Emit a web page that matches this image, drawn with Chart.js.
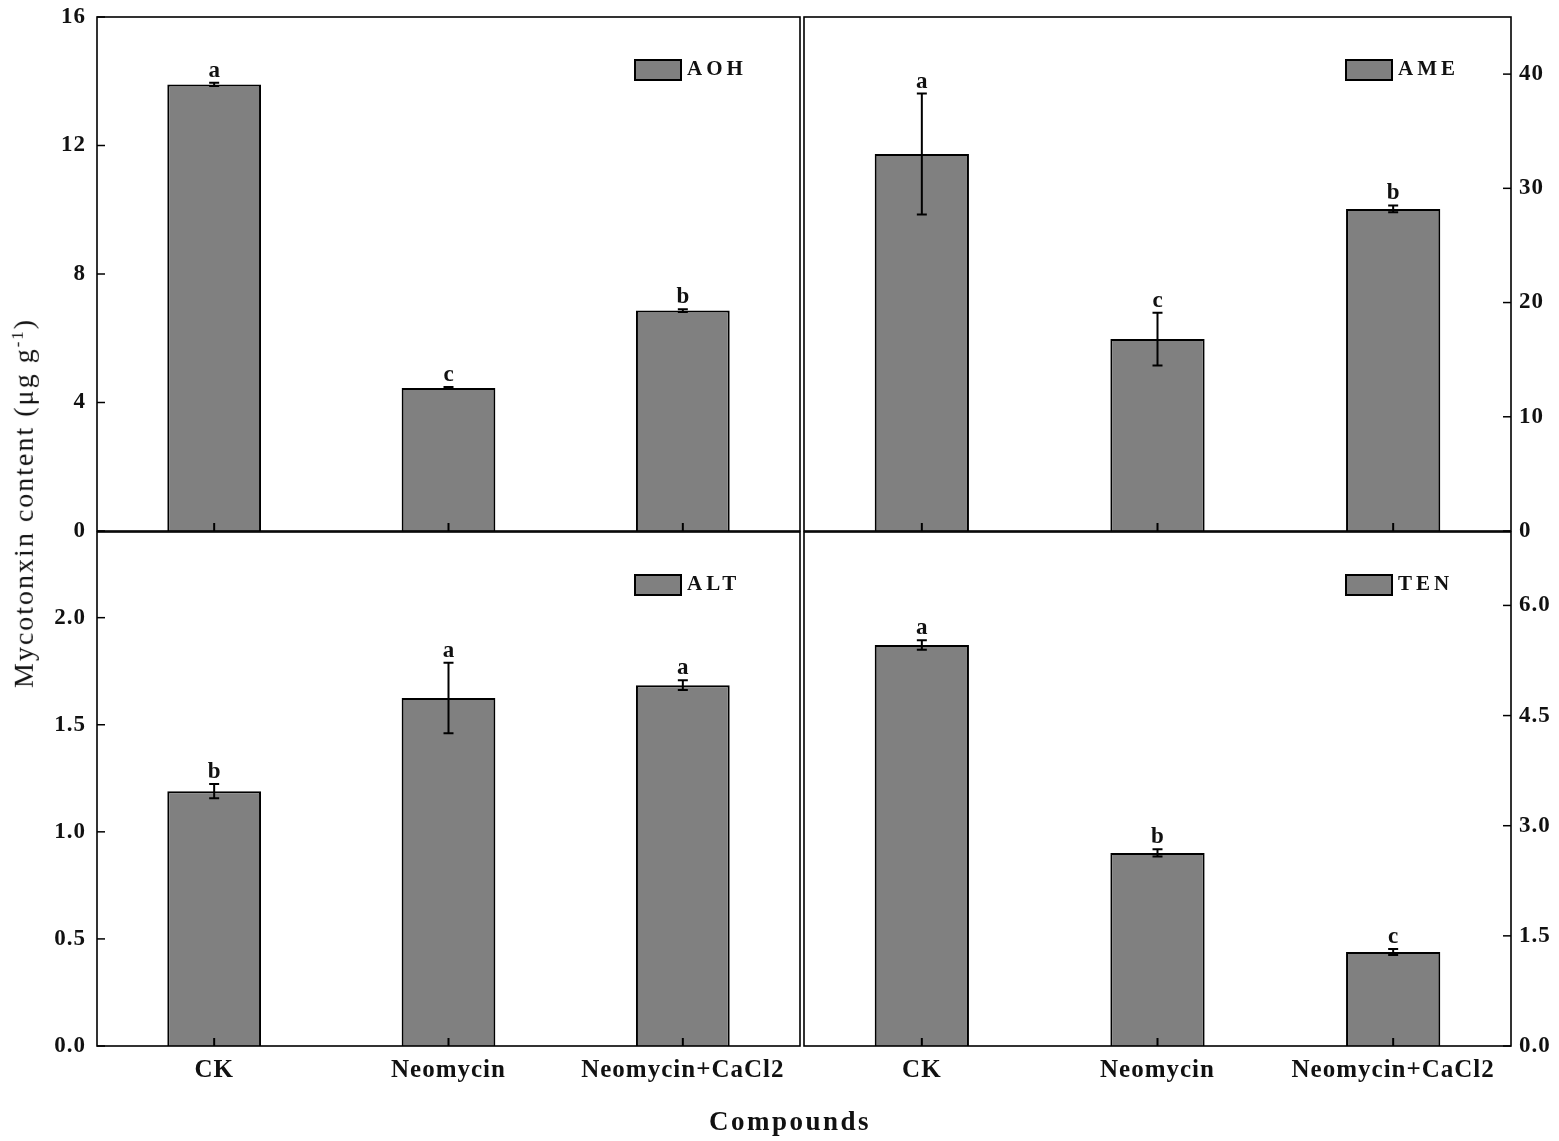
<!DOCTYPE html>
<html>
<head>
<meta charset="utf-8">
<script src="https://cdn.jsdelivr.net/npm/chart.js@4"></script>
<style>
  html,body{margin:0;padding:0;background:#fff;}
  #wrap{position:relative;width:1559px;height:1141px;overflow:hidden;background:#fff;}
  canvas{position:absolute;left:0;top:-40px;}
  #ylab{position:absolute;left:24px;top:503px;transform:translate(-50%,-50%) rotate(-90deg);
        font-family:"Liberation Serif",serif;font-size:28px;letter-spacing:2px;white-space:nowrap;color:#111;}
  #ylab sup{font-size:17px;}
  #xlab{position:absolute;left:790px;top:1121px;transform:translate(-50%,-50%);
        font-family:"Liberation Serif",serif;font-weight:bold;font-size:27px;letter-spacing:2.5px;color:#111;}
</style>
</head>
<body>
<div id="wrap">
  <canvas id="c1" width="1559" height="1221"></canvas>
  <canvas id="c2" width="1559" height="1221"></canvas>
  <canvas id="c3" width="1559" height="1221"></canvas>
  <canvas id="c4" width="1559" height="1221"></canvas>
  <div id="ylab">Mycotonxin content (μg g<sup>-1</sup>)</div>
  <div id="xlab">Compounds</div>
</div>
<script>
// ---- data ----
const categories = ['CK', 'Neomycin', 'Neomycin+CaCl2'];

const aohValues  = [13.9, 4.45, 6.86];
const aohErrors  = [0.05, 0.03, 0.04];
const aohLetters = ['a', 'c', 'b'];
const aohTicks   = [0, 4, 8, 12, 16];
const aohMax     = 16;

const ameValues  = [33.0, 16.8, 28.2];
const ameErrors  = [5.3, 2.3, 0.3];
const ameLetters = ['a', 'c', 'b'];
const ameTicks   = [0, 10, 20, 30, 40];
const ameMax     = 45;

const altValues  = [1.19, 1.625, 1.685];
const altErrors  = [0.033, 0.165, 0.023];
const altLetters = ['b', 'a', 'a'];
const altTicks   = [0, 0.5, 1.0, 1.5, 2.0];
const altMax     = 2.4;

const tenValues  = [5.46, 2.63, 1.28];
const tenErrors  = [0.065, 0.05, 0.04];
const tenLetters = ['a', 'b', 'c'];
const tenTicks   = [0, 1.5, 3.0, 4.5, 6.0];
const tenMax     = 7;

// ---- drawing helpers ----
const FONT = '"Liberation Serif", serif';
const W = 1559, H = 1141;
const OFF = 40;            // canvas is shifted up by OFF px
const CH = H + 2 * OFF;    // canvas height

const spacingPlugin = {
  id: 'spacing',
  beforeUpdate(chart) { chart.ctx.letterSpacing = '1px'; },
  beforeDraw(chart) { chart.ctx.letterSpacing = '1px'; }
};

const decoPlugin = {
  id: 'deco',
  afterDatasetsDraw(chart, args, opts) {
    const ctx = chart.ctx;
    const a = chart.chartArea;
    const xs = chart.scales.x, ys = chart.scales.y;
    const vals = chart.data.datasets[0].data;
    ctx.save();
    ctx.letterSpacing = '0px';
    ctx.strokeStyle = '#000';
    ctx.lineWidth = 2;
    vals.forEach((v, i) => {
      const e = opts.errors[i];
      const x = xs.getPixelForValue(i);
      const yT = ys.getPixelForValue(v + e);
      const yB = ys.getPixelForValue(v - e);
      ctx.beginPath();
      ctx.moveTo(x, yT); ctx.lineTo(x, yB);
      ctx.moveTo(x - 5, yT); ctx.lineTo(x + 5, yT);
      ctx.moveTo(x - 5, yB); ctx.lineTo(x + 5, yB);
      ctx.stroke();
      ctx.fillStyle = '#111';
      ctx.font = 'bold 23px ' + FONT;
      ctx.textAlign = 'center';
      ctx.textBaseline = 'alphabetic';
      ctx.fillText(opts.letters[i], x, Math.min(yT, ys.getPixelForValue(v)) - 6);
      ctx.beginPath();
      ctx.moveTo(x, a.bottom); ctx.lineTo(x, a.bottom - 8);
      ctx.stroke();
    });
    ctx.lineWidth = 1.6;
    ctx.strokeRect(a.left, a.top, a.right - a.left, a.bottom - a.top);
    ctx.lineWidth = 1.5;
    ys.ticks.forEach(t => {
      const y = ys.getPixelForValue(t.value);
      ctx.beginPath();
      if (ys.position === 'right') { ctx.moveTo(a.right, y); ctx.lineTo(a.right - 8, y); }
      else { ctx.moveTo(a.left, y); ctx.lineTo(a.left + 8, y); }
      ctx.stroke();
    });
    const lx = a.right - 165, ly = a.top + 43;
    ctx.fillStyle = '#808080';
    ctx.fillRect(lx, ly, 46, 20);
    ctx.lineWidth = 2;
    ctx.strokeRect(lx, ly, 46, 20);
    ctx.fillStyle = '#111';
    ctx.font = 'bold 21px ' + FONT;
    ctx.letterSpacing = '4px';
    ctx.textAlign = 'left';
    ctx.textBaseline = 'middle';
    ctx.fillText(chart.data.datasets[0].label, lx + 52, ly + 10);
    ctx.restore();
  }
};

function makeChart(id, label, values, errors, letters, ticks, max, side, row) {
  const isRight = side === 'right';
  const isBottom = row === 'bottom';
  const target = {
    left: isRight ? 804 : 97,
    right: isRight ? 1511 : 800,
    top: (isBottom ? 532 : 17) + OFF,
    bottom: (isBottom ? 1046 : 531) + OFF
  };
  const padding = {
    left: isRight ? 804 : 0,
    right: isRight ? 0 : W - 800,
    top: target.top,
    bottom: isBottom ? OFF : CH - target.bottom
  };
  const decimals = ticks.some(t => !Number.isInteger(t)) ? 1 : 0;
  const xScale = {
    display: isBottom,
    grid: { display: false, drawTicks: false },
    border: { display: false },
    ticks: { color: '#111', font: { family: FONT, size: 25, weight: 'bold' }, padding: 10, maxRotation: 0, autoSkip: false }
  };
  if (isBottom) xScale.afterFit = s => { s.height = H - 1046; };
  const chart = new Chart(document.getElementById(id), {
    type: 'bar',
    data: {
      labels: categories,
      datasets: [{
        label: label,
        data: values,
        backgroundColor: '#808080',
        borderColor: '#000',
        borderWidth: 2,
        barPercentage: 0.8,
        categoryPercentage: 0.5
      }]
    },
    options: {
      responsive: false,
      animation: false,
      devicePixelRatio: 1,
      layout: { padding: padding },
      plugins: {
        legend: { display: false },
        tooltip: { enabled: false },
        deco: { errors: errors, letters: letters }
      },
      scales: {
        x: xScale,
        y: {
          position: side,
          min: 0,
          max: max,
          grid: { display: false, drawTicks: false },
          border: { display: false },
          afterBuildTicks: s => { s.ticks = ticks.map(v => ({ value: v })); },
          ticks: {
            color: '#111',
            font: { family: FONT, size: 23, weight: 'bold' },
            padding: isRight ? 8 : 11,
            callback: v => Number(v).toFixed(decimals)
          },
          afterFit: s => { s.width = isRight ? W - 1511 : 97; }
        }
      }
    },
    plugins: [spacingPlugin, decoPlugin]
  });
  for (let k = 0; k < 3; k++) {
    const a = chart.chartArea;
    const p = chart.options.layout.padding;
    p.top = Math.max(0, p.top - (a.top - target.top));
    p.bottom = Math.max(0, p.bottom + (a.bottom - target.bottom));
    p.left = Math.max(0, p.left - (a.left - target.left));
    p.right = Math.max(0, p.right + (a.right - target.right));
    chart.update();
  }
  return chart;
}

makeChart('c1', 'AOH', aohValues, aohErrors, aohLetters, aohTicks, aohMax, 'left', 'top');
makeChart('c2', 'AME', ameValues, ameErrors, ameLetters, ameTicks, ameMax, 'right', 'top');
makeChart('c3', 'ALT', altValues, altErrors, altLetters, altTicks, altMax, 'left', 'bottom');
makeChart('c4', 'TEN', tenValues, tenErrors, tenLetters, tenTicks, tenMax, 'right', 'bottom');
</script>
</body>
</html>
